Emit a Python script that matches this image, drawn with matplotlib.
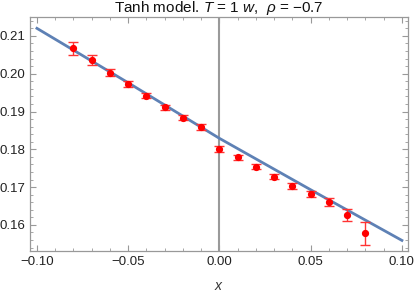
import matplotlib
matplotlib.use("Agg")
import matplotlib.pyplot as plt
import numpy as np
from matplotlib.ticker import MultipleLocator, FuncFormatter

plt.rcParams['font.family'] = ['Liberation Sans', 'DejaVu Sans']
plt.rcParams['mathtext.fontset'] = 'custom'
plt.rcParams['mathtext.it'] = 'Liberation Sans:italic'
plt.rcParams['mathtext.rm'] = 'Liberation Sans'

x_pts = [-0.08, -0.07, -0.06, -0.05, -0.04, -0.03, -0.02, -0.01, 0.00,
         0.01, 0.02, 0.03, 0.04, 0.05, 0.06, 0.07, 0.08]
y_pts = [0.2067, 0.2037, 0.2003, 0.1974, 0.1942, 0.1911, 0.1884, 0.1859, 0.1802,
         0.1779, 0.1754, 0.1728, 0.1703, 0.1683, 0.1660, 0.1626, 0.1578]
y_err = [0.0018, 0.0013, 0.0010, 0.0008, 0.0007, 0.0007, 0.0007, 0.0007, 0.0008,
         0.0007, 0.0007, 0.0007, 0.0007, 0.0008, 0.0010, 0.0016, 0.0030]

x_fit = [-0.10, -0.05, 0.00, 0.05, 0.10]
y_fit = [0.2120, 0.1976, 0.1829, 0.1693, 0.1559]

fig = plt.figure(figsize=(4.15, 2.92), dpi=100)
ax = fig.add_axes([0.0723, 0.1404, 0.9107, 0.8014])

ax.axvline(0, color='#9a9a9a', lw=1.5, zorder=1)
ax.plot(x_fit, y_fit, color='#5E81B5', lw=2.0, zorder=2)
ax.errorbar(x_pts, y_pts, yerr=y_err, fmt='o', color='#FF0000', ms=4.2,
            ecolor='#FF3333', elinewidth=1.0, capsize=3.5, capthick=1.0, zorder=3)

ax.set_xlim(-0.1038, 0.1033)
ax.set_ylim(0.1531, 0.2150)

ax.xaxis.set_major_locator(MultipleLocator(0.05))
ax.xaxis.set_minor_locator(MultipleLocator(0.01))
ax.yaxis.set_major_locator(MultipleLocator(0.01))
ax.yaxis.set_minor_locator(MultipleLocator(0.002))
fmt = FuncFormatter(lambda v, p: ('%.2f' % v).replace('-', '\u2212') if abs(v) > 1e-9 else '0.00')
ax.xaxis.set_major_formatter(fmt)
ax.yaxis.set_major_formatter(FuncFormatter(lambda v, p: '%.2f' % v))

ax.tick_params(which='both', direction='in', top=True, right=True, color='#999999',
               labelsize=9.5, labelcolor='#222222')
ax.tick_params(which='major', length=4, width=0.8)
ax.tick_params(which='minor', length=2.2, width=0.6)
for s in ax.spines.values():
    s.set_color('#999999')
    s.set_linewidth(0.9)

ax.set_title(r'Tanh model. $T$ = 1 $w$,  $\rho$ = $-$0.7', fontsize=11, pad=2, color='#111111')
ax.set_xlabel(r'$x$', fontsize=10, labelpad=8, color='#333333')

fig.savefig('out.png', dpi=100)
